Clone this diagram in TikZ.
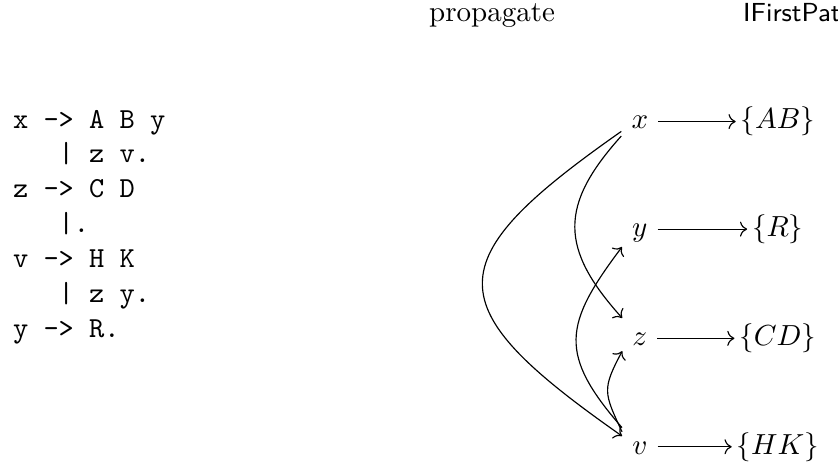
\documentclass[tikz,border=0pt]{standalone}
\usetikzlibrary{arrows.meta}

\begin{document}
\begin{tikzpicture}[>={Computer Modern Rightarrow},
    sym/.style={text height=7pt, text depth=2pt},
    pat/.style={text height=7pt, text depth=2pt, inner sep=1.5pt}]
  \useasboundingbox (0,0) rectangle (10.15,-5.644);

  % Column titles
  \node[anchor=base] (prop) at (5.96,-0.266) {propagate};
  \node[anchor=base west, font=\sffamily\small] (first) at (8.878,-0.266) {IFirstPat};

  % Grammar (base is the last line)
  \node[anchor=base west, align=left, font=\ttfamily, inner sep=0] (gram) at (0.151,-4.082)
    {x -> A B y\\ ~~~| z v.\\ z -> C D\\ ~~~|.\\ v -> H K\\ ~~~| z y.\\ y -> R.};

  % Nonterminals
  \node[sym] (x) at (7.75,-1.472) {$x$};
  \node[sym] (y) at (7.75,-2.775) {$y$};
  \node[sym] (z) at (7.75,-4.098) {$z$};
  \node[sym] (v) at (7.75,-5.411) {$v$};

  % First sets
  \node[pat] (ab) at (9.42,-1.472) {$\{AB\}$};
  \node[pat] (r)  at (9.42,-2.775) {$\{R\}$};
  \node[pat] (cd) at (9.42,-4.098) {$\{CD\}$};
  \node[pat] (hk) at (9.42,-5.411) {$\{HK\}$};

  \foreach \a/\b in {x/ab, y/r, z/cd, v/hk}
    \draw[->] (\a) -- (\b);

  % Propagation
  \draw[->] (x.208) to[out=215, in=145, looseness=1.9] (v.149);
  \draw[->] (x.218) to[out=228, in=132, looseness=1.31] (z.131);
  \draw[->] (v.133) to[out=131, in=233, looseness=1.38] (y.225);
  \draw[->] (v.140) to[out=115, in=242, looseness=1.37] (z.216);
\end{tikzpicture}
\end{document}
